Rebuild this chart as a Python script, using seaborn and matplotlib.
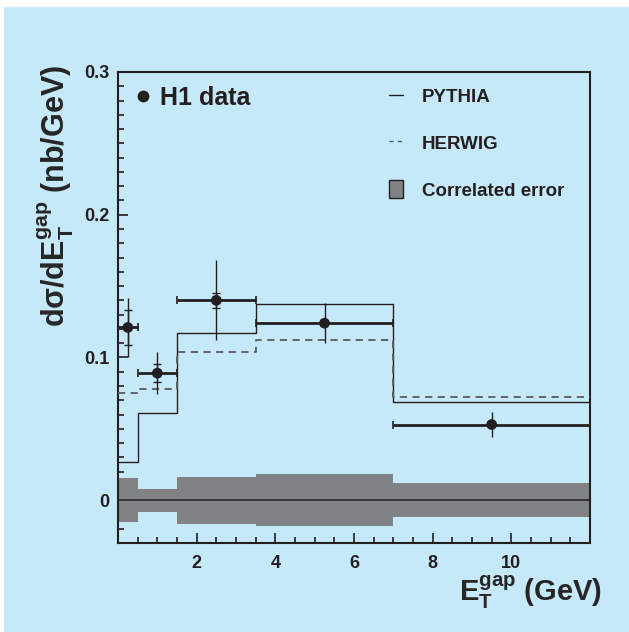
import numpy as np
import pandas as pd
import matplotlib
matplotlib.use("Agg")
import matplotlib.pyplot as plt
import seaborn as sns
from matplotlib.lines import Line2D
from matplotlib.patches import Patch, Rectangle
from matplotlib.ticker import MultipleLocator, FixedLocator, FixedFormatter

# ---- data ----
bin_edges = [0.0, 0.5, 1.5, 3.5, 7.0, 12.0]
x_data = [0.25, 1.0, 2.5, 5.25, 9.5]
y_data = [0.121, 0.089, 0.140, 0.124, 0.053]
stat_err = [0.012, 0.0065, 0.005, np.nan, np.nan]
tot_err = [0.021, 0.0145, 0.028, 0.014, 0.009]
pythia = [0.027, 0.061, 0.117, 0.1375, 0.069]
herwig = [0.075, 0.078, 0.104, 0.1125, 0.072]
corr_err = [0.0155, 0.008, 0.0165, 0.018, 0.012]
y_ticks = [0.0, 0.1, 0.2, 0.3]
y_ticklabels = ["0", "0.1", "0.2", "0.3"]
x_ticks = [2, 4, 6, 8, 10]
x_ticklabels = ["2", "4", "6", "8", "10"]

BLUE = "#C6E9FA"
DARK = "#231F20"
GREY = "#808285"
DGREY = "#5A5B5E"

sns.set_style("ticks")
plt.rcParams["font.family"] = ["Liberation Sans", "DejaVu Sans"]
plt.rcParams["font.weight"] = "bold"
plt.rcParams["mathtext.fontset"] = "custom"
plt.rcParams["mathtext.rm"] = "Liberation Sans:bold"
plt.rcParams["mathtext.it"] = "Liberation Sans:bold"
plt.rcParams["mathtext.bf"] = "Liberation Sans:bold"
plt.rcParams["mathtext.sf"] = "Liberation Sans:bold"
plt.rcParams["text.color"] = DARK

fig = plt.figure(figsize=(6.29, 6.32), dpi=100)
fig.patch.set_facecolor("white")
fig.add_artist(Rectangle((4 / 629, 0), 1, 625 / 632, transform=fig.transFigure,
                         facecolor=BLUE, edgecolor="none", zorder=-10))
ax = fig.add_axes([118 / 629, 1 - 543 / 632, (590 - 118) / 629, (543 - 72) / 632])
ax.set_facecolor(BLUE)

edges = np.array(bin_edges)
lo = edges[:-1]
hi = edges[1:]
xd = np.array(x_data)
yd = np.array(y_data)

# correlated error band
band = np.array(corr_err + [corr_err[-1]])
ax.fill_between(edges, -band, band, step="post", color=GREY, lw=0, zorder=1)
ax.axhline(0, color=DARK, lw=1.1, zorder=2)

# MC step curves
df_p = pd.DataFrame({"x": edges, "y": pythia + [pythia[-1]]})
df_h = pd.DataFrame({"x": edges, "y": herwig + [herwig[-1]]})
sns.lineplot(data=df_p, x="x", y="y", drawstyle="steps-post", color=DARK, lw=1.0,
             estimator=None, sort=False, ax=ax, zorder=3)
sns.lineplot(data=df_h, x="x", y="y", drawstyle="steps-post", color=DGREY, lw=1.3,
             linestyle=(0, (4, 3)), estimator=None, sort=False, ax=ax, zorder=3)

# data error bars
ax.errorbar(xd, yd, xerr=[xd - lo, hi - xd], fmt="none", ecolor=DARK,
            elinewidth=2.0, capsize=3, capthick=1.2, zorder=4)
ax.errorbar(xd, yd, yerr=tot_err, fmt="none", ecolor=DARK, elinewidth=1.0,
            capsize=0, zorder=4)
ax.errorbar(xd, yd, yerr=stat_err, fmt="none", ecolor=DARK, elinewidth=1.0,
            capsize=3, capthick=1.0, zorder=4)
sns.scatterplot(x=x_data, y=y_data, color=DARK, s=60, edgecolor="none",
                zorder=5, ax=ax, legend=False)

ax.set_xlim(0, 12)
ax.set_ylim(-0.03, 0.3)

ax.xaxis.set_major_locator(FixedLocator(x_ticks))
ax.xaxis.set_major_formatter(FixedFormatter(x_ticklabels))
ax.xaxis.set_minor_locator(MultipleLocator(0.5))
ax.yaxis.set_major_locator(FixedLocator(y_ticks))
ax.yaxis.set_major_formatter(FixedFormatter(y_ticklabels))
ax.yaxis.set_minor_locator(MultipleLocator(0.01))

ax.tick_params(which="both", direction="in", top=False, right=False,
               colors=DARK, width=1.2)
ax.tick_params(which="major", length=7, labelsize=13)
ax.tick_params(which="minor", length=4)
ax.tick_params(axis="x", which="major", pad=9)
ax.tick_params(axis="y", which="major", pad=6)
for lab in ax.get_xticklabels() + ax.get_yticklabels():
    lab.set_fontweight("bold")

for sp in ax.spines.values():
    sp.set_visible(True)
    sp.set_linewidth(1.5)
    sp.set_color(DARK)

ax.set_xlabel(r"$\mathrm{E_T^{gap}}$ (GeV)", fontsize=21, fontweight="bold",
              ha="right", va="top")
ax.xaxis.set_label_coords(1.025, -0.066)
ax.set_ylabel(r"$\mathrm{d\sigma/dE_T^{gap}}$ (nb/GeV)", fontsize=22,
              fontweight="bold", ha="right")
ax.yaxis.set_label_coords(-0.09, 1.015)

# legends
h_data = [Line2D([], [], marker="o", ls="none", color=DARK, markersize=7.5)]
leg1 = ax.legend(h_data, ["H1 data"], loc="upper left", bbox_to_anchor=(0.0, 1.002),
                 frameon=False, prop={"size": 18, "weight": "bold"},
                 handlelength=0.8, handletextpad=0.3, borderaxespad=0.2)
ax.add_artist(leg1)
h_mc = [Line2D([], [], color=DARK, lw=1.0),
        Line2D([], [], color=DGREY, lw=1.0, linestyle=(0, (3, 3))),
        Patch(facecolor=GREY, edgecolor=DARK, lw=1.0)]
ax.legend(h_mc, ["PYTHIA", "HERWIG", "Correlated error"], loc="upper left",
          bbox_to_anchor=(0.55, 0.992), frameon=False,
          prop={"size": 13.5, "weight": "bold"}, handlelength=0.75,
          handleheight=1.1, handletextpad=1.0, labelspacing=1.45, borderaxespad=0.2)

fig.savefig("out.png", dpi=100, facecolor=fig.get_facecolor())
